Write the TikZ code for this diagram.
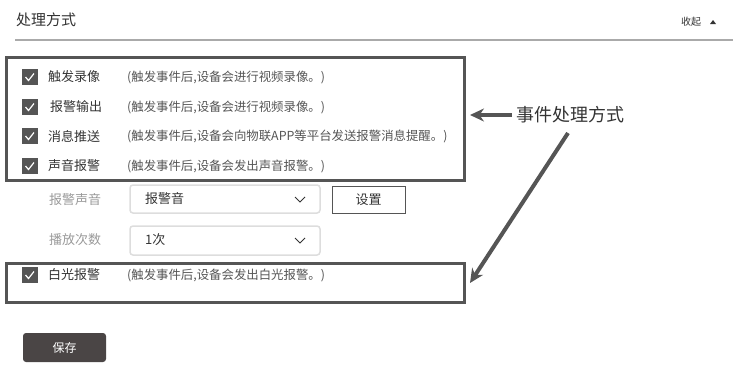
\documentclass[tikz,border=0pt]{standalone}
\usepackage{fontspec}
\setmainfont{Noto Sans CJK SC}
\usetikzlibrary{positioning,arrows.meta}

\definecolor{framegray}{HTML}{555555}
\definecolor{txtdark}{HTML}{333333}
\definecolor{txtmid}{HTML}{555555}
\definecolor{txtlight}{HTML}{999999}
\definecolor{rulegray}{HTML}{AAAAAA}
\definecolor{selgray}{HTML}{DDDDDD}
\definecolor{btngray}{HTML}{4A4545}

\tikzset{
  chk/.style={minimum size=15pt, inner sep=0pt, fill=framegray, draw=framegray,
    path picture={\draw[white, line width=1.2pt]
      ([shift={(-4.5pt,0pt)}]path picture bounding box.center) -- ++(3pt,-3.5pt) -- ++(5.5pt,7pt);}},
  lbl/.style={anchor=west, inner sep=0pt, font=\fontsize{13}{13}\selectfont, text=txtdark},
  desc/.style={anchor=west, inner sep=0pt, font=\fontsize{12.4}{13}\selectfont, text=txtmid},
  field/.style={anchor=west, inner sep=0pt, font=\fontsize{13}{13}\selectfont, text=txtlight},
  sel/.style={draw=selgray, line width=1.5pt, rounded corners=3pt},
  frame/.style={draw=framegray, line width=3pt},
  callout/.style={draw=framegray, line width=4pt, -{Stealth[length=14pt,width=13pt]}}
}

\begin{document}
\begin{tikzpicture}[x=1pt, y=-1pt]
  \useasboundingbox (0,0) rectangle (733,364);

  % header
  \node[lbl, font=\fontsize{15}{15}\selectfont] (title) at (16,20) {处理方式};
  \node[lbl, font=\fontsize{10}{10}\selectfont] (fold) at (681,22) {收起};
  \fill[txtdark] (710,24) -- (716,24) -- (713,20) -- cycle;
  \draw[rulegray, line width=2pt] (15,40) -- (733,40);

  % event frames
  \draw[frame] (6,57) rectangle (464,180);
  \draw[frame] (6,263) rectangle (464,302);

  % checked rows
  \node[chk] (c1) at (30,77) {};
  \node[lbl] (l1) at (48,77) {触发录像};
  \node[desc] (d1) at (127,77) {(触发事件后,设备会进行视频录像。)};

  \node[chk] (c2) at (30,107) {};
  \node[lbl] (l2) at (50,107) {报警输出};
  \node[desc] (d2) at (127,107) {(触发事件后,设备会进行视频录像。)};

  \node[chk] (c3) at (30,136) {};
  \node[lbl] (l3) at (48,136) {消息推送};
  \node[desc] (d3) at (127,136) {(触发事件后,设备会向物联APP等平台发送报警消息提醒。)};

  \node[chk] (c4) at (30,166) {};
  \node[lbl] (l4) at (48,166) {声音报警};
  \node[desc] (d4) at (127,166) {(触发事件后,设备会发出声音报警。)};

  % sound settings
  \node[field] (f1) at (49,200) {报警声音};
  \draw[sel] (130,185) rectangle (320,213);
  \node[lbl] (v1) at (145,199) {报警音};
  \draw[txtdark, line width=1pt] (295,197) -- (300,202) -- (305,197);
  \node[draw=txtmid, line width=1pt, minimum width=73pt, minimum height=27pt,
        inner sep=0pt, font=\fontsize{13}{13}\selectfont, text=txtdark] (setbtn) at (368.5,199.5) {设置};

  \node[field] (f2) at (49,240) {播放次数};
  \draw[sel] (130,226) rectangle (320,255);
  \node[lbl] (v2) at (145,240) {1次};
  \draw[txtdark, line width=1pt] (295,238) -- (300,243) -- (305,238);

  % white light row
  \node[chk] (c5) at (30,275) {};
  \node[lbl] (l5) at (48,275) {白光报警};
  \node[desc] (d5) at (127,275) {(触发事件后,设备会发出白光报警。)};

  % save
  \node[fill=btngray, rounded corners=3pt, minimum width=83pt, minimum height=29pt,
        inner sep=0pt, text=white, font=\fontsize{12}{12}\selectfont] (save) at (64.5,347.5) {保存};

  % callout
  \node[anchor=west, inner sep=0pt, font=\fontsize{18}{18}\selectfont, text=txtdark] (note) at (516,115) {事件处理方式};
  \coordinate (tip1) at (470,115);
  \coordinate (tail2) at (568,133);
  \coordinate (tip2) at (470,283);
  \path[callout] ([xshift=-4pt]note.west) -- (tip1);
  \path[callout] (tail2) -- (tip2);

\end{tikzpicture}
\end{document}
